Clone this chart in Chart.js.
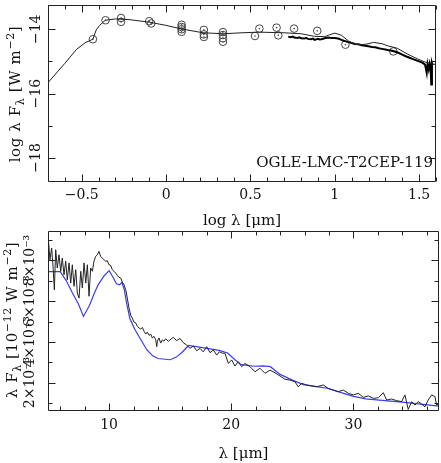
<!DOCTYPE html>
<html>
<head>
<meta charset="utf-8">
<script src="https://cdn.jsdelivr.net/npm/chart.js@4.4.0/dist/chart.umd.min.js"></script>
<style>
  html, body { margin: 0; padding: 0; background: #fff; }
  #wrap { position: relative; width: 441px; height: 463px; overflow: hidden; font-family: "DejaVu Serif", serif; color: #111; }
  canvas { position: absolute; left: 0; }
  #topChart { top: 0; }
  #botChart { top: 228px; }
  .ytitle { position: absolute; white-space: nowrap; font-size: 15px; line-height: 15px; letter-spacing: 0.6px;
            transform: translate(-50%, -50%) rotate(-90deg); }
  .ytitle sub, .ytitle sup { font-size: 11px; line-height: 0; }
  #starName { position: absolute; right: 8px; top: 155px; font-size: 15px; line-height: 15px; }
</style>
</head>
<body>
<div id="wrap">
  <canvas id="topChart" width="441" height="232"></canvas>
  <canvas id="botChart" width="441" height="235"></canvas>
  <div class="ytitle" style="left:15px;top:94px">log λ F<sub>λ</sub> [W m<sup>−2</sup>]</div>
  <div class="ytitle" style="left:12px;top:320px">λ F<sub>λ</sub> [10<sup>−12</sup> W m<sup>−2</sup>]</div>
  <div id="starName">OGLE-LMC-T2CEP-119</div>
</div>
<script>
// ---- top panel: SED (log lambda vs log lambda F_lambda) ----
const photLogWave = [-0.434, -0.359, -0.267, -0.267, -0.100, -0.088, 0.092, 0.092, 0.092, 0.092,
  0.224, 0.224, 0.224, 0.337, 0.337, 0.337, 0.337, 0.527, 0.553, 0.655, 0.665, 0.759, 0.896, 1.063, 1.347];
const photLogFlux = [-14.31, -13.72, -13.65, -13.77, -13.75, -13.82, -13.86, -13.93, -14.00, -14.08,
  -14.02, -14.16, -14.24, -14.09, -14.18, -14.28, -14.39, -14.21, -13.98, -13.95, -14.19, -13.98, -14.05, -14.48, -14.69];

const modelLogWave = [-0.70, -0.60, -0.53, -0.48, -0.434, -0.414, -0.394, -0.36, -0.30, -0.22, -0.10, 0.00, 0.09,
  0.22, 0.34, 0.45, 0.55, 0.70, 0.80, 0.88, 0.94, 0.97, 1.00, 1.04, 1.08, 1.12, 1.16, 1.19, 1.23, 1.28, 1.31,
  1.37, 1.43, 1.49, 1.53, 1.57, 1.60];
const modelLogFlux = [-15.66, -15.06, -14.62, -14.42, -14.31, -14.02, -13.88, -13.72, -13.68, -13.70, -13.78, -13.88, -13.99,
  -14.11, -14.14, -14.11, -14.09, -14.11, -14.14, -14.22, -14.23, -14.17, -14.12, -14.19, -14.36, -14.47, -14.48, -14.46, -14.41, -14.45, -14.51,
  -14.59, -14.77, -14.92, -15.01, -15.07, -15.10];

const irsLogWave = [0.724, 0.74, 0.75, 0.76, 0.78, 0.79, 0.80, 0.82, 0.83, 0.84, 0.86, 0.87, 0.88, 0.90, 0.91, 0.92,
  0.94, 0.96, 0.98, 1.00, 1.02, 1.04, 1.06, 1.08, 1.10, 1.12, 1.14, 1.16, 1.18, 1.20, 1.22, 1.24, 1.26, 1.28,
  1.30, 1.32, 1.34, 1.36, 1.38, 1.40, 1.42, 1.44, 1.46, 1.48, 1.50, 1.52, 1.535, 1.545, 1.55, 1.557, 1.563,
  1.568, 1.572, 1.576, 1.58];
const irsLogFlux = [-14.23, -14.25, -14.23, -14.26, -14.27, -14.25, -14.28, -14.29, -14.27, -14.30, -14.31, -14.29, -14.33, -14.30, -14.32, -14.31,
  -14.28, -14.26, -14.27, -14.27, -14.29, -14.33, -14.37, -14.40, -14.43, -14.46, -14.47, -14.50, -14.51, -14.53, -14.55, -14.56, -14.59, -14.61,
  -14.63, -14.65, -14.67, -14.70, -14.74, -14.79, -14.84, -14.88, -14.92, -14.96, -15.00, -15.04, -15.10, -15.36, -15.08, -15.25, -15.06,
  -15.15, -15.72, -15.05, -15.12];

const topXTicks = [-0.5, 0, 0.5, 1, 1.5];
const topXTickLabels = ['−0.5', '0', '0.5', '1', '1.5'];
const topYTicks = [-18, -16, -14];
const topYTickLabels = ['−18', '−16', '−14'];

// ---- bottom panel: spectrum (lambda vs lambda F_lambda, units 10^-3) ----
const specWave = [5.03, 5.16, 5.30, 5.43, 5.52, 5.63, 5.76, 5.90, 6.04, 6.17, 6.31, 6.45, 6.58, 6.72, 6.86, 6.99,
  7.13, 7.27, 7.40, 7.54, 7.68, 7.81, 7.95, 8.09, 8.22, 8.36, 8.49, 8.63, 8.76, 8.90, 9.04, 9.17, 9.31, 9.44,
  9.58, 9.72, 9.85, 9.99, 10.13, 10.26, 10.40, 10.54, 10.67, 10.81, 10.95, 11.08, 11.22, 11.36, 11.49, 11.63,
  11.77, 11.90, 12.04, 12.18, 12.31, 12.45, 12.59, 12.72, 12.86, 13.00, 13.13, 13.27, 13.41, 13.54, 13.68,
  13.82, 13.90, 13.95, 14.08, 14.22, 14.36, 14.49, 14.63, 14.85, 14.98, 15.25, 15.53, 15.80, 16.07, 16.35,
  16.62, 16.89, 17.17, 17.44, 17.71, 17.99, 18.26, 18.53, 18.81, 19.02, 19.30, 19.48, 19.76, 20.03, 20.30,
  20.57, 20.85, 21.12, 21.53, 21.94, 22.35, 22.76, 23.17, 23.58, 23.99, 24.40, 24.80, 25.21, 25.48, 25.76,
  26.17, 26.58, 26.99, 27.53, 27.94, 28.35, 28.76, 29.17, 29.58, 29.99, 30.40, 30.81, 31.22, 31.63, 32.03,
  32.44, 32.72, 33.12, 33.53, 33.94, 34.21, 34.48, 34.76, 35.03, 35.30, 35.58, 35.85, 36.12, 36.40, 36.67,
  36.81, 37.02];
const specFlux = [9.02, 8.04, 8.61, 7.55, 6.56, 8.53, 7.63, 8.28, 7.47, 8.12, 7.30, 7.96, 7.05, 7.88, 6.89, 7.79,
  6.73, 7.55, 6.40, 6.15, 7.47, 6.65, 7.88, 6.89, 7.79, 6.24, 7.63, 7.47, 7.96, 8.20, 8.28, 8.45, 8.20, 8.12,
  8.04, 7.96, 7.99, 7.79, 7.76, 7.55, 7.47, 7.38, 7.27, 7.17, 7.14, 6.94, 6.81, 6.56, 6.15, 5.66,
  5.30, 5.17, 4.97, 4.93, 4.76, 4.68, 4.63, 4.71, 4.52, 4.38, 4.48, 4.32, 4.38, 4.19, 4.27,
  4.10, 3.76, 4.03, 4.19, 3.94, 4.10, 4.03, 4.15, 4.03, 4.09, 4.22, 4.06, 4.17, 3.96, 3.84,
  3.68, 3.79, 3.56, 3.68, 3.51, 3.76, 3.47, 3.60, 3.35, 3.51, 3.44, 3.44, 2.94, 3.11, 2.81,
  3.02, 2.78, 2.94, 2.78, 2.53, 2.70, 2.45, 2.61, 2.48, 2.32, 2.16, 2.12, 2.04, 1.79, 1.96,
  1.88, 1.83, 1.79, 1.88, 1.71, 1.63, 1.55, 1.63, 1.47, 1.39, 1.47, 1.27, 1.34, 1.22, 1.25,
  1.50, 1.14, 1.19, 1.11, 1.06, 1.39, 0.68, 1.06, 0.89, 1.06, 0.94, 0.81, 1.14, 1.39, 1.31,
  0.89, 1.00];

const modelWave = [5.0, 6.0, 6.5, 7.0, 7.5, 7.9, 8.4, 8.8, 9.1, 9.6, 10.0, 10.3, 10.6, 10.85, 11.05, 11.25, 11.45,
  11.7, 12.1, 12.6, 13.1, 13.6, 14.0, 15.0, 15.5, 16.0, 16.5, 17.0, 18.0, 19.0, 19.7, 20.3, 20.8, 21.9, 22.6,
  23.2, 24.0, 25.0, 25.9, 27.0, 27.85, 29.0, 30.0, 31.0, 32.8, 34.0, 35.5, 37.0];
const modelFlux = [7.45, 7.45, 7.0, 6.4, 5.85, 5.25, 5.8, 6.4, 6.8, 7.25, 7.5, 7.2, 6.85, 6.8, 6.92, 6.55, 5.85,
  5.15, 4.62, 4.1, 3.6, 3.3, 3.18, 3.12, 3.25, 3.5, 3.82, 3.78, 3.68, 3.58, 3.45, 3.12, 2.88, 2.8, 2.82,
  2.78, 2.4, 2.12, 1.9, 1.8, 1.72, 1.5, 1.32, 1.2, 1.1, 1.04, 0.94, 0.84];

const botXTicks = [10, 20, 30];
const botXTickLabels = ['10', '20', '30'];
const botYTicks = [2, 4, 6, 8];
const botYTickLabels = ['2×10⁻³', '4×10⁻³', '6×10⁻³', '8×10⁻³'];

const FONT = 'DejaVu Serif';
const INK = '#111';

function pts(xs, ys) {
  return xs.map((x, i) => ({ x: x, y: ys[i] }));
}

function steps(from, to, step) {
  const out = [];
  for (let v = from; v <= to + 1e-9; v += step) out.push(Math.round(v * 1000) / 1000);
  return out;
}

// box round the plot with inward ticks on all four sides
const frameTicks = {
  id: 'frameTicks',
  afterDatasetsDraw(chart, args, opts) {
    const { ctx, chartArea: a, scales: { x, y } } = chart;
    const L = Math.round(a.left) + 0.5, R = Math.round(a.right) - 0.5;
    const T = Math.round(a.top) + 0.5, B = Math.round(a.bottom) - 0.5;
    ctx.save();
    ctx.strokeStyle = '#222';
    ctx.lineWidth = 1;
    ctx.beginPath();
    ctx.rect(L, T, R - L, B - T);
    const xt = (v, len) => {
      const p = Math.round(x.getPixelForValue(v)) + 0.5;
      ctx.moveTo(p, B); ctx.lineTo(p, B - len);
      ctx.moveTo(p, T); ctx.lineTo(p, T + len);
    };
    const yt = (v, len) => {
      const p = Math.round(y.getPixelForValue(v)) + 0.5;
      ctx.moveTo(L, p); ctx.lineTo(L + len, p);
      ctx.moveTo(R, p); ctx.lineTo(R - len, p);
    };
    opts.xMinor.forEach(v => xt(v, 4));
    opts.xMajor.forEach(v => xt(v, 7));
    opts.yMinor.forEach(v => yt(v, 4));
    opts.yMajor.forEach(v => yt(v, 7));
    ctx.stroke();
    ctx.restore();
  }
};

const measure = document.createElement('canvas').getContext('2d');
measure.font = '14px "' + FONT + '"';
const widest = labels => Math.max(...labels.map(t => measure.measureText(t).width));

function xAxis(min, max, ticks, labels, title, height, pad, titlePad) {
  return {
    type: 'linear', min: min, max: max,
    afterBuildTicks: s => { s.ticks = ticks.map(v => ({ value: v })); },
    afterFit: s => { s.height = height; },
    grid: { display: false, drawTicks: false },
    border: { display: false },
    ticks: { autoSkip: false, maxRotation: 0, padding: pad, color: INK,
      font: { family: FONT, size: 14 }, callback: (v, i) => labels[i] },
    title: { display: true, text: title, color: INK, font: { family: FONT, size: 15 },
      padding: { top: 0, bottom: titlePad } }
  };
}

function yAxis(min, max, ticks, labels, centerX) {
  return {
    type: 'linear', min: min, max: max,
    afterBuildTicks: s => { s.ticks = ticks.map(v => ({ value: v })); },
    afterFit: s => { s.width = 48; },
    grid: { display: false, drawTicks: false },
    border: { display: false },
    ticks: { autoSkip: false, minRotation: 90, maxRotation: 90, crossAlign: 'center',
      padding: 48 - centerX - widest(labels) / 2, color: INK,
      font: { family: FONT, size: 14 }, callback: (v, i) => labels[i] }
  };
}

const common = {
  responsive: false,
  animation: false,
  devicePixelRatio: 1,
  events: [],
  plugins: { legend: { display: false }, tooltip: { enabled: false } }
};

new Chart(document.getElementById('topChart'), {
  type: 'scatter',
  data: {
    datasets: [
      { data: pts(modelLogWave, modelLogFlux), showLine: true, borderColor: '#222', borderWidth: 1,
        pointRadius: 0, tension: 0 },
      { data: pts(irsLogWave, irsLogFlux), showLine: true, borderColor: '#000', borderWidth: 2,
        pointRadius: 0, tension: 0 },
      { data: pts(photLogWave, photLogFlux), showLine: false, pointStyle: 'circle', pointRadius: 3.8,
        borderColor: '#444', borderWidth: 1, backgroundColor: 'rgba(0,0,0,0)' },
      { data: pts(photLogWave, photLogFlux), showLine: false, pointRadius: 0.8,
        borderWidth: 0, backgroundColor: '#444' }
    ]
  },
  options: Object.assign({}, common, {
    layout: { padding: { top: 2, right: 2, left: 0, bottom: 0 } },
    scales: {
      x: xAxis(-0.7, 1.6, topXTicks, topXTickLabels, 'log λ [μm]', 50, 5, 2),
      y: yAxis(-18.75, -13.25, topYTicks, topYTickLabels, 36.5)
    },
    plugins: Object.assign({}, common.plugins, {
      frameTicks: { xMajor: topXTicks, xMinor: steps(-0.7, 1.6, 0.1), yMajor: topYTicks, yMinor: [-17, -15] }
    })
  }),
  plugins: [frameTicks]
});

new Chart(document.getElementById('botChart'), {
  type: 'scatter',
  data: {
    datasets: [
      { data: pts(specWave, specFlux), showLine: true, borderColor: '#222', borderWidth: 1,
        pointRadius: 0, tension: 0 },
      { data: pts(modelWave, modelFlux), showLine: true, borderColor: '#3c3cf5', borderWidth: 1.2,
        pointRadius: 0, tension: 0 }
    ]
  },
  options: Object.assign({}, common, {
    layout: { padding: { top: 3, right: 2, left: 0, bottom: 0 } },
    scales: {
      x: xAxis(5, 37, botXTicks, botXTickLabels, 'λ [μm]', 52, 6, 0),
      y: yAxis(0.6, 9.45, botYTicks, botYTickLabels, 30)
    },
    plugins: Object.assign({}, common.plugins, {
      frameTicks: { xMajor: botXTicks, xMinor: steps(6, 36, 2), yMajor: botYTicks, yMinor: [1, 3, 5, 7, 9] }
    })
  }),
  plugins: [frameTicks]
});
</script>
</body>
</html>
